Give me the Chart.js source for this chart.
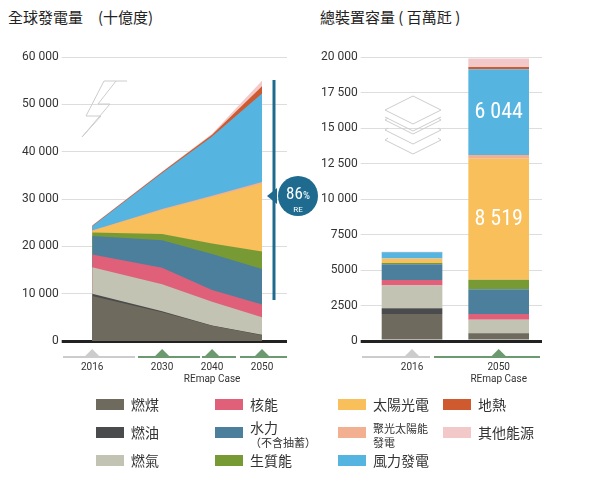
<!DOCTYPE html>
<html><head><meta charset="utf-8">
<script src="https://cdn.jsdelivr.net/npm/chart.js@4/dist/chart.umd.min.js"></script>
<style>
body{margin:0;background:#fff;font-family:"Noto Sans CJK TC","Noto Sans",sans-serif;width:589px;height:479px;position:relative;overflow:hidden}
.t{position:absolute;font-size:15px;color:#222}
#c1{position:absolute;left:0;top:40px}
#c2{position:absolute;left:300px;top:40px}
.lg{position:absolute;font-size:14px;color:#333;line-height:14px}
.sw{position:absolute;width:28px;height:11px}
</style></head><body>
<div class="t" style="left:8px;top:6px">全球發電量　(十億度)</div>
<div class="t" style="left:320px;top:6px">總裝置容量 ( 百萬瓩 )</div>
<canvas id="c1" width="300" height="357"></canvas>
<canvas id="c2" width="260" height="357"></canvas>
<svg style="position:absolute;left:0;top:0" width="589" height="479">
<polyline points="127,81 104,81 86,116 101,116 82,137 110,104 98,104 116,81" fill="none" stroke="#ccc" stroke-width="1"/>
<g fill="none" stroke="#ccc"><path d="M385,110 413,96 441,110 413,124Z"/><path d="M385,117 l28,14 28,-14"/><path d="M388,118 385,120 413,134 441,120 438,118"/><path d="M388,128 385,130 413,144 441,130 438,128"/><path d="M388,138 385,140 413,154 441,140 438,138"/></g>
<line x1="274" y1="80" x2="274" y2="300" stroke="#1e6b8f" stroke-width="3"/>
<polygon points="267,196 277,188 277,204" fill="#1e6b8f"/>
<circle cx="298" cy="196" r="20" fill="#1e6b8f"/>
<text x="298" y="199" fill="#fff" font-size="17" text-anchor="middle" font-family="Roboto Condensed, Roboto, sans-serif">86<tspan font-size="11">%</tspan></text>
<text x="298" y="212" fill="#fff" font-size="8" text-anchor="middle" font-family="Roboto">RE</text>
</svg>
<script>
const years=[2016,2030,2040,2050];
const names=['燃煤','燃油','燃氣','核能','水力','生質能','太陽光電','聚光太陽能發電','風力發電','地熱','其他能源'];
const colors=['#6f6a5e','#4a4b4c','#c3c3b3','#e0607a','#4b7f9c','#789a35','#f8bf5a','#f2b090','#56b4e1','#cf5a30','#f3c8c8'];
const gen=[[9500,6100,3200,1200],[500,200,100,100],[5600,5700,5000,3700],[2700,3500,2500,2700],[3900,5800,7600,7500],[700,1300,2200,3700],[400,5100,9800,14300],[50,200,300,400],[900,7600,12500,18700],[100,200,400,1500],[100,100,200,1200]];
const capCats=[['2016'],['2050','REmap Case']];
const cap=[[1900,550],[400,10],[1600,940],[400,400],[1100,1750],[100,670],[300,8519],[10,260],[440,6044],[20,150],[20,600]];
const genTicks=[0,10000,20000,30000,40000,50000,60000];
const capTicks=[0,2500,5000,7500,10000,12500,15000,17500,20000];
const fmt=v=>v>=10000?String(v).replace(/(\d+)(\d{3})$/,'$1 $2'):String(v);
const grid={color:c=>c.tick.value===0?'#222':'#ddd',lineWidth:c=>c.tick.value===0?3:1};
const tf={family:'Roboto',size:12};
function deco(kind){return{id:'deco'+kind,afterDraw(ch){const x=ch.scales.x,ctx=ch.ctx,y=ch.chartArea.bottom+15;
 const segs=kind==1?[[63,135,'#ccc',2016],[138,200,'#6a9a6e',2030],[202,236,'#6a9a6e',2040],[240,287,'#6a9a6e',2050]]:[[62,130,'#ccc',0],[134,240,'#6a9a6e',1]];
 segs.forEach(s=>{ctx.fillStyle=s[2];ctx.fillRect(s[0],y,s[1]-s[0],2);const px=x.getPixelForValue(s[3]);ctx.beginPath();ctx.moveTo(px-7,y);ctx.lineTo(px,y-7);ctx.lineTo(px+7,y);ctx.fill();});}}}
const lbl={id:'lbl',afterDatasetsDraw(ch){const ctx=ch.ctx;ctx.fillStyle='#fff';ctx.font='22px "Roboto Condensed","DejaVu Sans Condensed",sans-serif';ctx.textAlign='center';ctx.textBaseline='middle';
 [6,8].forEach(i=>{const e=ch.getDatasetMeta(i).data[1];ctx.fillText(String(cap[i][1]).replace(/(\d)(\d{3})$/,'$1 $2'),e.x,(e.y+e.base)/2);});}};
new Chart(document.getElementById('c1'),{type:'line',data:{datasets:gen.map((d,i)=>({label:names[i],data:d.map((v,j)=>({x:years[j],y:v})),backgroundColor:colors[i],borderColor:colors[i],borderWidth:0,pointRadius:0,fill:true}))},
 options:{responsive:false,animation:false,plugins:{legend:{display:false},tooltip:{enabled:false}},layout:{padding:{left:19,right:13,top:17}},
 scales:{x:{type:'linear',min:2011.5,max:2055,grid:{display:false},border:{display:false},afterBuildTicks:a=>{a.ticks=years.map(v=>({value:v}))},ticks:{autoSkip:false,maxRotation:0,padding:12,font:{family:'Roboto',size:10},color:'#333',callback:v=>v===2040?['2040','REmap Case']:String(v)}},
 y:{stacked:true,min:0,max:60000,afterBuildTicks:a=>{a.ticks=genTicks.map(v=>({value:v}))},grid,border:{display:false},ticks:{font:tf,color:'#333',callback:fmt}}}},plugins:[deco(1)]});
new Chart(document.getElementById('c2'),{type:'bar',data:{labels:capCats,datasets:cap.map((d,i)=>({label:names[i],data:d,backgroundColor:colors[i],barPercentage:0.7,categoryPercentage:1}))},
 options:{responsive:false,animation:false,plugins:{legend:{display:false},tooltip:{enabled:false}},layout:{padding:{left:18,right:18,top:17}},
 scales:{x:{stacked:true,grid:{display:false},border:{display:false},ticks:{padding:12,font:{family:'Roboto',size:10},color:'#333'}},
 y:{stacked:true,min:0,max:20000,afterBuildTicks:a=>{a.ticks=capTicks.map(v=>({value:v}))},grid,border:{display:false},ticks:{font:tf,color:'#333',callback:fmt}}}},plugins:[deco(2),lbl]});
const L=[[96,0,0],[96,28,1],[96,56,2],[215,0,3],[215,28,4],[215,56,5],[338,0,6],[338,28,7],[338,56,8],[443,0,9],[443,28,10]];
const txt=['燃煤','燃油','燃氣','核能','水力<br><span style="font-size:11px">（不含抽蓄）</span>','生質能','太陽光電','<span style="font-size:11px;line-height:12px">聚光太陽能<br>發電</span>','風力發電','地熱','其他能源'];
L.forEach(([x,y,i])=>{document.body.insertAdjacentHTML('beforeend',`<div class="sw" style="left:${x}px;top:${399+y}px;background:${colors[i]}"></div><div class="lg" style="left:${x+35}px;top:${i==4||i==7?392+y:397+y}px">${txt[i]}</div>`);});
</script></body></html>
